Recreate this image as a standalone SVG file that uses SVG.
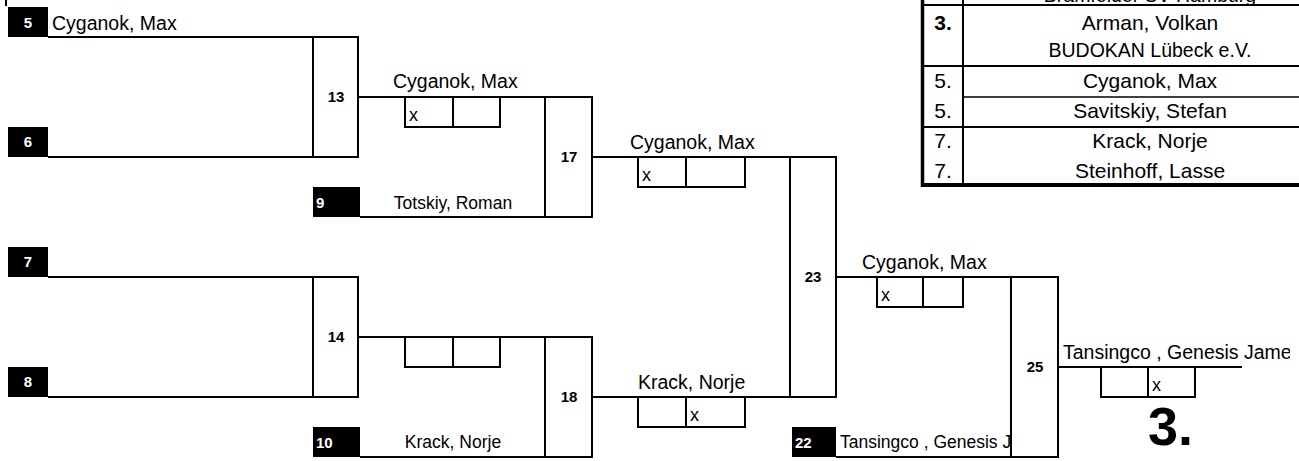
<svg xmlns="http://www.w3.org/2000/svg" width="1299" height="461" viewBox="0 0 1299 461">
<style>
  .ln { stroke: #000; stroke-width: 2; fill: none; }
  .bx { stroke: #000; stroke-width: 2; fill: none; }
  .seed { fill: #000; }
  .sn { font-family: "Liberation Sans", Arial, sans-serif; font-weight: bold; font-size: 15px; fill: #fff; }
  .bl { font-family: "Liberation Sans", Arial, sans-serif; font-weight: bold; font-size: 15px; fill: #000; text-anchor: middle; }
  .wn { font-family: "Liberation Sans", Arial, sans-serif; font-size: 19.5px; fill: #000; }
  .pn { font-family: "Liberation Sans", Arial, sans-serif; font-size: 17.5px; fill: #000; }
  .sc { font-family: "Liberation Sans", Arial, sans-serif; font-size: 18px; fill: #000; }
  .tn { font-family: "Liberation Sans", Arial, sans-serif; font-size: 21px; fill: #000; text-anchor: middle; }
  .tc { font-family: "Liberation Sans", Arial, sans-serif; font-size: 19.5px; fill: #000; text-anchor: middle; }
  .tp { font-family: "Liberation Sans", Arial, sans-serif; font-size: 21px; fill: #000; text-anchor: middle; }
</style>
<defs>
  <clipPath id="clip22"><rect x="836" y="420" width="175" height="40"/></clipPath>
  <clipPath id="clipFinal"><rect x="1058" y="330" width="232" height="40"/></clipPath>
</defs>
<rect x="0" y="0" width="1299" height="461" fill="#fff"/>

<!-- top-left frame fragment -->
<line class="ln" x1="6" y1="0" x2="6" y2="6"/>

<!-- results table -->
<g id="results">
  <line x1="922.5" y1="0" x2="922.5" y2="187" stroke="#000" stroke-width="3.5"/>
  <line x1="963" y1="0" x2="963" y2="185" stroke="#000" stroke-width="2"/>
  <line x1="922" y1="5" x2="1299" y2="5" stroke="#000" stroke-width="2"/>
  <line x1="922" y1="66" x2="1299" y2="66" stroke="#000" stroke-width="2"/>
  <line x1="963" y1="97" x2="1299" y2="97" stroke="#000" stroke-width="1.5"/>
  <line x1="922" y1="127" x2="1299" y2="127" stroke="#000" stroke-width="2"/>
  <line x1="921" y1="185" x2="1299" y2="185" stroke="#000" stroke-width="4"/>
  <text class="tc" x="1150" y="2">Bramfelder SV Hamburg</text>
  <text class="tp" x="943" y="30" font-weight="bold">3.</text>
  <text class="tn" x="1150" y="30">Arman, Volkan</text>
  <text class="tc" x="1150" y="57">BUDOKAN Lübeck e.V.</text>
  <text class="tp" x="943" y="88">5.</text>
  <text class="tn" x="1150" y="88">Cyganok, Max</text>
  <text class="tp" x="943" y="118">5.</text>
  <text class="tn" x="1150" y="118">Savitskiy, Stefan</text>
  <text class="tp" x="943" y="148">7.</text>
  <text class="tn" x="1150" y="148">Krack, Norje</text>
  <text class="tp" x="943" y="178">7.</text>
  <text class="tn" x="1150" y="178">Steinhoff, Lasse</text>
</g>

<!-- seeds -->
<g id="seed5">
  <rect class="seed" x="8" y="7" width="40" height="30"/>
  <text class="sn" x="28" y="28" text-anchor="middle">5</text>
  <text class="wn" x="52" y="30" font-size="19px">Cyganok, Max</text>
</g>
<g id="seed6">
  <rect class="seed" x="8" y="127" width="40" height="30"/>
  <text class="sn" x="28" y="147" text-anchor="middle">6</text>
</g>
<g id="seed7">
  <rect class="seed" x="8" y="247" width="40" height="30"/>
  <text class="sn" x="28" y="267" text-anchor="middle">7</text>
</g>
<g id="seed8">
  <rect class="seed" x="8" y="367" width="40" height="30"/>
  <text class="sn" x="28" y="387" text-anchor="middle">8</text>
</g>
<g id="seed9">
  <rect class="seed" x="313" y="187" width="47" height="30"/>
  <text class="sn" x="316" y="208">9</text>
  <text class="pn" x="453" y="209" text-anchor="middle">Totskiy, Roman</text>
</g>
<g id="seed10">
  <rect class="seed" x="313" y="427" width="47" height="30"/>
  <text class="sn" x="316" y="448">10</text>
  <text class="pn" x="453" y="448" text-anchor="middle">Krack, Norje</text>
</g>
<g id="seed22">
  <rect class="seed" x="792" y="427" width="44" height="30"/>
  <text class="sn" x="795" y="448">22</text>
  <text class="pn" x="840" y="448" clip-path="url(#clip22)">Tansingco , Genesis James</text>
</g>

<!-- match boxes -->
<g id="m13"><rect class="bx" x="313" y="37" width="45" height="120"/><text class="bl" x="336" y="102">13</text></g>
<g id="m14"><rect class="bx" x="313" y="277" width="45" height="120"/><text class="bl" x="336" y="342">14</text></g>
<g id="m17"><rect class="bx" x="545" y="97" width="47" height="120"/><text class="bl" x="569" y="162">17</text></g>
<g id="m18"><rect class="bx" x="545" y="337" width="47" height="120"/><text class="bl" x="569" y="402">18</text></g>
<g id="m23"><rect class="bx" x="790" y="157" width="46" height="240"/><text class="bl" x="813" y="282">23</text></g>
<g id="m25"><rect class="bx" x="1011" y="277" width="47" height="180"/><text class="bl" x="1035" y="372">25</text></g>

<!-- connectors -->
<g id="connectors">
  <line class="ln" x1="48" y1="37" x2="313" y2="37"/>
  <line class="ln" x1="48" y1="157" x2="313" y2="157"/>
  <line class="ln" x1="48" y1="277" x2="313" y2="277"/>
  <line class="ln" x1="48" y1="397" x2="313" y2="397"/>
  <line class="ln" x1="358" y1="97" x2="545" y2="97"/>
  <line class="ln" x1="360" y1="217" x2="545" y2="217"/>
  <line class="ln" x1="358" y1="337" x2="545" y2="337"/>
  <line class="ln" x1="360" y1="457" x2="545" y2="457"/>
  <line class="ln" x1="592" y1="157" x2="790" y2="157"/>
  <line class="ln" x1="592" y1="397" x2="790" y2="397"/>
  <line class="ln" x1="836" y1="277" x2="1011" y2="277"/>
  <line class="ln" x1="836" y1="457" x2="1011" y2="457"/>
  <line class="ln" x1="1058" y1="367" x2="1242" y2="367"/>
</g>

<!-- winner labels and scores -->
<g id="w13">
  <text class="wn" x="393" y="88">Cyganok, Max</text>
  <rect class="bx" x="405" y="97" width="48" height="30"/>
  <rect class="bx" x="453" y="97" width="47" height="30"/>
  <text class="sc" x="409" y="121">x</text>
</g>
<g id="w14">
  <rect class="bx" x="405" y="337" width="48" height="30"/>
  <rect class="bx" x="453" y="337" width="47" height="30"/>
</g>
<g id="w17">
  <text class="wn" x="630" y="149">Cyganok, Max</text>
  <rect class="bx" x="638" y="157" width="48" height="30"/>
  <rect class="bx" x="686" y="157" width="59" height="30"/>
  <text class="sc" x="642" y="181">x</text>
</g>
<g id="w18">
  <text class="wn" x="638" y="389">Krack, Norje</text>
  <rect class="bx" x="638" y="397" width="48" height="30"/>
  <rect class="bx" x="686" y="397" width="59" height="30"/>
  <text class="sc" x="690" y="421">x</text>
</g>
<g id="w23">
  <text class="wn" x="862" y="269">Cyganok, Max</text>
  <rect class="bx" x="877" y="277" width="46" height="30"/>
  <rect class="bx" x="923" y="277" width="40" height="30"/>
  <text class="sc" x="881" y="301">x</text>
</g>
<g id="w25">
  <text class="wn" x="1063" y="359" font-size="20px" clip-path="url(#clipFinal)">Tansingco , Genesis James</text>
  <rect class="bx" x="1101" y="367" width="47" height="30"/>
  <rect class="bx" x="1148" y="367" width="47" height="30"/>
  <text class="sc" x="1152" y="391">x</text>
  <text x="1148" y="445" font-family="Liberation Sans, Arial, sans-serif" font-weight="bold" font-size="54px" fill="#000">3.</text>
</g>
</svg>
